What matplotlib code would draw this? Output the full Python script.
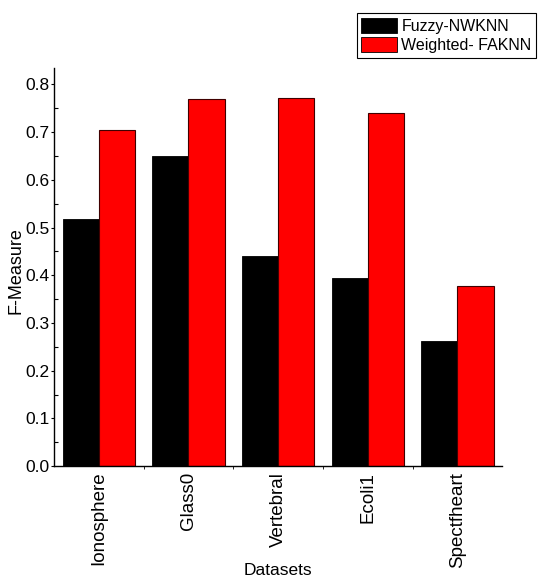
import matplotlib
matplotlib.use("Agg")
import matplotlib.pyplot as plt
from matplotlib.patches import Patch
import numpy as np

plt.rcParams['font.family'] = ['Liberation Sans', 'DejaVu Sans']

datasets = ["Ionosphere", "Glass0", "Vertebral", "Ecoli1", "Spectfheart"]
fuzzy_nwknn = [0.518, 0.651, 0.440, 0.395, 0.263]
weighted_faknn = [0.704, 0.770, 0.772, 0.741, 0.377]
series_names = ["Fuzzy-NWKNN", "Weighted- FAKNN"]
series_colors = ["#000000", "#ff0000"]
y_ticks = [0.0, 0.1, 0.2, 0.3, 0.4, 0.5, 0.6, 0.7, 0.8]

fig = plt.figure(figsize=(5.4, 5.79), dpi=100)
ax = fig.add_axes([0.100, 0.195, 0.830, 0.688])

x = np.arange(1, len(datasets) + 1)
w = 0.404
ax.bar(x - w / 2, fuzzy_nwknn, width=w, color=series_colors[0],
       edgecolor="#000000", linewidth=0.6)
ax.bar(x + w / 2, weighted_faknn, width=w, color=series_colors[1],
       edgecolor="#400000", linewidth=0.8)

ax.set_xlim(0.5, 5.5)
ax.set_ylim(0, 0.835)
ax.set_yticks(y_ticks)
ax.set_yticklabels([f"{v:.1f}" for v in y_ticks], fontsize=12.5)
ax.set_yticks(np.arange(0.05, 0.81, 0.1), minor=True)
ax.set_xticks(x)
ax.set_xticklabels(datasets, rotation=90, fontsize=13.5)
ax.set_xticks(np.arange(1.5, 5.0, 1.0), minor=True)

ax.tick_params(axis="y", which="major", direction="out", length=2, width=0.8, pad=1)
ax.tick_params(axis="y", which="minor", direction="in", length=3, width=0.8)
ax.tick_params(axis="x", which="major", length=0, pad=4)
ax.tick_params(axis="x", which="minor", direction="out", length=2, width=0.6)

for side in ("top", "right"):
    ax.spines[side].set_visible(False)
for side in ("left", "bottom"):
    ax.spines[side].set_linewidth(1.0)

ax.set_ylabel("F-Measure", fontsize=13)
ax.yaxis.set_label_coords(-0.066, 0.49)
ax.set_xlabel("Datasets", fontsize=12.5)
ax.xaxis.set_label_coords(0.5, -0.243)

handles = [Patch(facecolor=c, edgecolor="#000000", linewidth=0.6) for c in series_colors]
leg = fig.legend(handles, series_names, loc="upper right",
                 bbox_to_anchor=(0.993, 0.978),
                 prop={'size': 11.5}, frameon=True,
                 fancybox=False, edgecolor="#000000", framealpha=1,
                 handlelength=2.2, handleheight=1.1, handletextpad=0.3,
                 labelspacing=0.2, borderpad=0.3, borderaxespad=0)
leg.get_frame().set_linewidth(0.8)

fig.savefig("out.png", dpi=100)
